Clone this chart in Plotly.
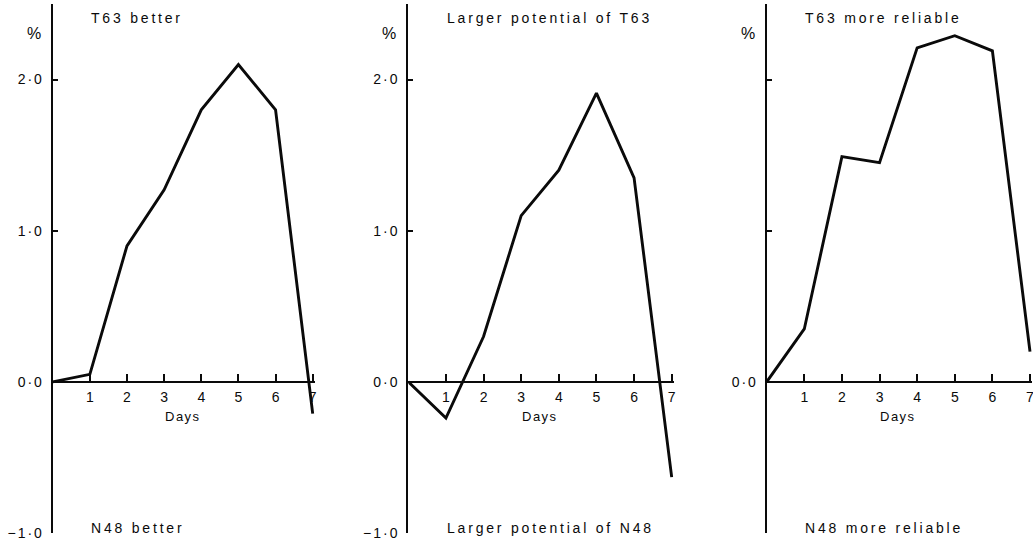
import plotly.graph_objects as go

# Forecast verification differences (T63 minus N48), by forecast day
days = [0, 1, 2, 3, 4, 5, 6, 7]
better = [0.0, 0.05, 0.90, 1.27, 1.80, 2.10, 1.80, -0.21]
potential = [0.0, -0.24, 0.30, 1.10, 1.40, 1.91, 1.35, -0.63]
reliable = [0.0, 0.35, 1.49, 1.45, 2.21, 2.29, 2.19, 0.20]
series = [better, potential, reliable]

top_labels = ["T63 better", "Larger potential of T63", "T63 more reliable"]
bottom_labels = ["N48 better", "Larger potential of N48", "N48 more reliable"]
day_ticks = [1, 2, 3, 4, 5, 6, 7]
y_tickvals = [-1, 0, 1, 2]
y_ticktext_full = ["−1·0", "0·0", "1·0", "2·0"]
y_ticktext_zero = ["", "0·0", "", ""]

W, H = 1033, 544
FONT = "Liberation Sans, Arial, sans-serif"
INK = "#0a0a0a"

# pixel placement of each panel: left axis (day 0) and day 7
panel_px = [(52.7, 312.7), (408.3, 671.7), (766.7, 1030.0)]
y_range = [-1.0, 2.5]
y_top_px, y_bot_px = 4.0, 533.0
x_max = 7.06


def spaced(text, ls):
    return f'<span style="letter-spacing:{ls}px">{text}</span>'


fig = go.Figure()

ydom = [(H - y_bot_px) / H, (H - y_top_px) / H]
zero_pos = ydom[0] + (0 - y_range[0]) / (y_range[1] - y_range[0]) * (ydom[1] - ydom[0])

layout = dict(
    width=W, height=H,
    margin=dict(l=0, r=0, t=0, b=0, pad=0, autoexpand=False),
    paper_bgcolor="white", plot_bgcolor="white",
    showlegend=False,
    font=dict(family=FONT, color=INK, size=13),
)
annotations = []

for i, ys in enumerate(series):
    n = i + 1
    xa = "x" if n == 1 else f"x{n}"
    ya = "y" if n == 1 else f"y{n}"
    p0, p7 = panel_px[i]
    ppd = (p7 - p0) / 7.0
    xdom = [p0 / W, min(1.0, (p0 + x_max * ppd) / W)]

    fig.add_trace(go.Scatter(
        x=days, y=ys, mode="lines",
        line=dict(color=INK, width=2.9),
        xaxis=xa, yaxis=ya, hoverinfo="skip",
    ))

    layout["xaxis" if n == 1 else f"xaxis{n}"] = dict(
        domain=xdom, range=[0, x_max],
        anchor="free", position=zero_pos,
        automargin=False,
        showline=True, linecolor=INK, linewidth=2,
        showgrid=False, zeroline=False,
        ticks="inside", ticklen=7, tickwidth=2, tickcolor=INK,
        tickvals=day_ticks, ticktext=[str(d) for d in day_ticks],
        tickfont=dict(size=14, family=FONT, color=INK),
        ticklabelstandoff=2,
        ticklabeloverflow="allow",
    )
    layout["yaxis" if n == 1 else f"yaxis{n}"] = dict(
        domain=ydom, range=y_range,
        anchor=xa,
        automargin=False,
        showline=True, linecolor=INK, linewidth=2,
        showgrid=False, zeroline=False,
        ticks="inside", ticklen=5, tickwidth=2, tickcolor=INK,
        tickvals=y_tickvals,
        ticktext=[spaced(t, 2) for t in (y_ticktext_zero if n == 3 else y_ticktext_full)],
        tickfont=dict(size=14, family=FONT, color=INK),
        ticklabelstandoff=4,
        ticklabeloverflow="allow",
    )

    # top and bottom captions
    annotations.append(dict(
        text=spaced(top_labels[i], 2.8), xref=xa, x=1, xanchor="left", xshift=-1,
        yref="paper", y=1 - 17.5 / H, yanchor="middle", showarrow=False,
        font=dict(size=14, family=FONT, color=INK),
    ))
    annotations.append(dict(
        text=spaced(bottom_labels[i], 2.8), xref=xa, x=1, xanchor="left", xshift=-1,
        yref="paper", y=1 - 527.5 / H, yanchor="middle", showarrow=False,
        font=dict(size=14, family=FONT, color=INK),
    ))
    # unit marker
    annotations.append(dict(
        text="%", xref=f"{xa} domain", x=0, xanchor="center", xshift=-19,
        yref="paper", y=1 - 33.5 / H, yanchor="middle", showarrow=False,
        font=dict(size=16, family=FONT, color=INK),
    ))
    # axis caption
    annotations.append(dict(
        text=spaced("Days", 1.5), xref=xa, x=3.5, xanchor="center",
        yref="paper", y=1 - 416 / H, yanchor="middle", showarrow=False,
        font=dict(size=13, family=FONT, color=INK),
    ))

layout["annotations"] = annotations
fig.update_layout(**layout)
fig.write_html("out.html")
